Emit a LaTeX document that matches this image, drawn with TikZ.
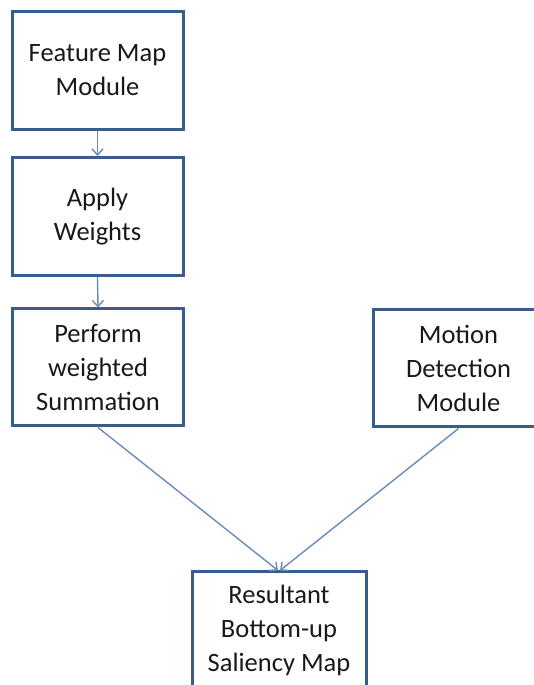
\documentclass[tikz,border=0pt]{standalone}
\usepackage{fontspec}
\setmainfont{Carlito}
\usetikzlibrary{arrows.meta}
\definecolor{boxline}{RGB}{56,93,138}
\definecolor{arrowline}{RGB}{106,140,186}
\begin{document}
\begin{tikzpicture}[x=1pt,y=1pt,
  stepbox/.style={draw=boxline, line width=3pt, fill=white, align=center,
    minimum width=171pt, minimum height=118pt, inner sep=0pt,
    font=\fontsize{26.5}{34}\selectfont, text=black!90},
  link/.style={draw=arrowline, line width=1.4pt,
    -{Straight Barb[length=6pt,width=11pt]}}]
\useasboundingbox (0,0) rectangle (534,685);
% left column of processing steps
\node[stepbox] (fm) at (97.5,614.5) {Feature Map\\Module};
\node[stepbox] (aw) at (97.5,468.5) {Apply\\Weights};
\node[stepbox, minimum height=117pt] (pw) at (98,317.5) {Perform\\weighted\\Summation};
% motion branch on the right
\node[stepbox, minimum height=117pt] (md) at (458.5,316.5) {Motion\\Detection\\Module};
% combined output
\node[stepbox, minimum width=174pt, minimum height=117pt] (rs) at (279,54.5) {Resultant\\Bottom-up\\Saliency Map};
\draw[link] (fm.south) -- (aw.north);
\draw[link] (aw.south) -- (pw.north);
\draw[link] (pw.south) -- ([xshift=-1pt]rs.north);
\draw[link] (md.south) -- ([xshift=1pt]rs.north);
\end{tikzpicture}
\end{document}
